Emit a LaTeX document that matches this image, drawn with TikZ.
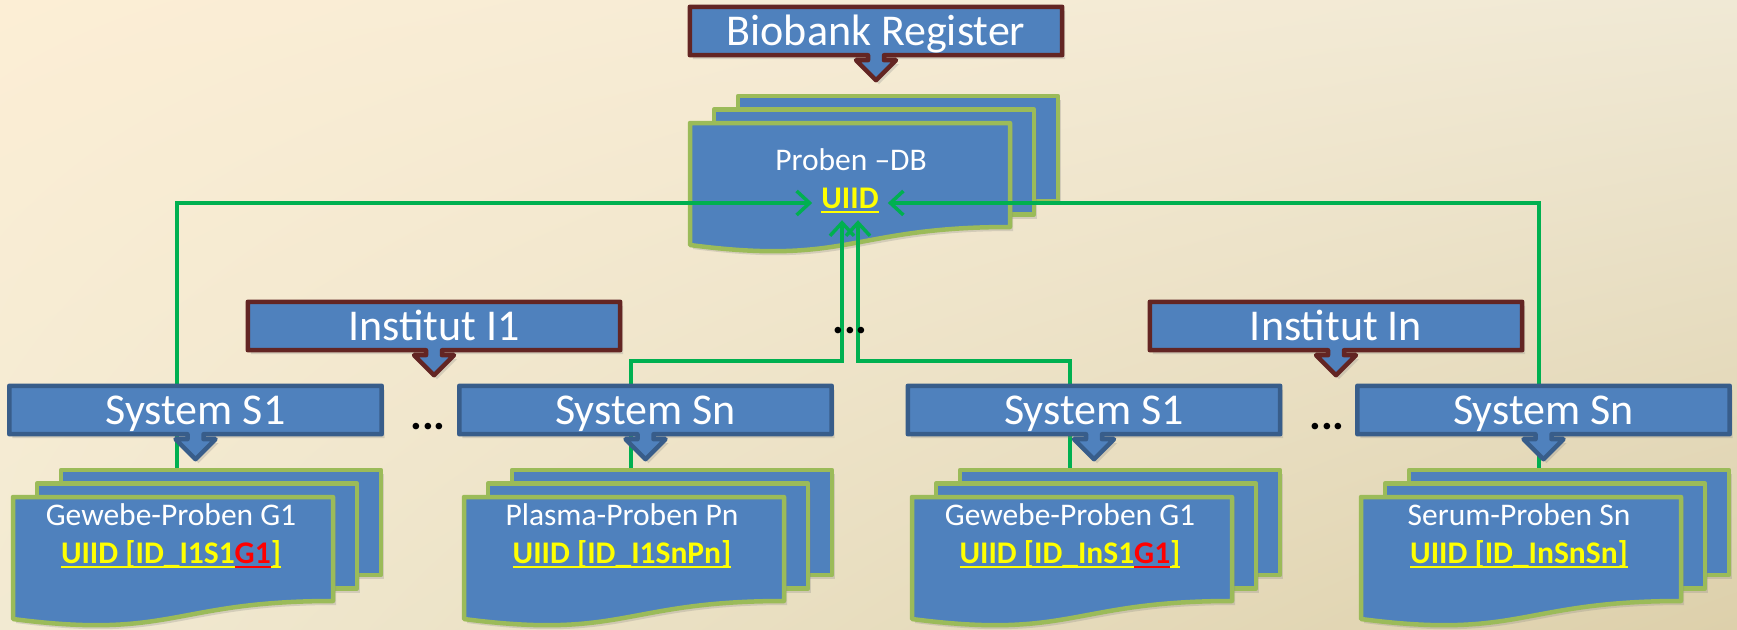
\documentclass[tikz,border=0pt]{standalone}
\usepackage{fontspec}
\setmainfont{Carlito}
\usetikzlibrary{positioning}
\usetikzlibrary{calc}
\usetikzlibrary{arrows.meta}
\usetikzlibrary{shadings}
\usetikzlibrary{shadows}

\definecolor{officeblue}{HTML}{4F81BD}
\definecolor{boxbrown}{HTML}{632523}
\definecolor{boxnavy}{HTML}{385D8A}
\definecolor{pagegreen}{HTML}{9BBB59}
\definecolor{linkgreen}{HTML}{00B050}
\definecolor{idyellow}{HTML}{FFFF00}
\definecolor{idred}{HTML}{FF0000}
\definecolor{bgtl}{HTML}{FCEED5}
\definecolor{bgtr}{HTML}{F0E9D5}
\definecolor{bgbl}{HTML}{F2EAD2}
\definecolor{bgbr}{HTML}{DDD0AB}

\pgfdeclarelayer{back}
\pgfdeclarelayer{links}
\pgfdeclarelayer{front}
\pgfsetlayers{back,links,main,front}

% underline at a fixed depth
\newcommand\uidline[1]{\setbox0\hbox{#1}\rlap{\rule[-5.3pt]{\wd0}{2.5pt}}\box0}

% box frame with its arrow below
\newcommand\arrowbox[2]{%
  \draw[#2] (#1.south west) -- (#1.north west) -- (#1.north east) -- (#1.south east)
    -- ($(#1.south)+(8,0)$) -- ++(0,5) -- ++(12,0) -- ($(#1.south)+(0,25)$)
    -- ($(#1.south)+(-20,5)$) -- ++(12,0) -- ($(#1.south)+(-8,0)$) -- cycle;}

% three pages, front page top left at #1
\newcommand\probenstack[1]{%
  \begin{scope}[shift={#1}]
    \draw[page] (48,-27) rectangle ++(320,105);
    \draw[page] (24,-13.5) rectangle ++(320,105);
    \draw[page] (0,0) -- (320,0) -- (320,104) .. controls (160,104) and (160,143) .. (0,122) -- cycle;
  \end{scope}}

\begin{document}
\begin{tikzpicture}[x=1pt, y=-1pt,
    every node/.style={inner sep=0pt},
    boxlabel/.style={text=white, font=\fontsize{44}{50}\selectfont, minimum width=372pt,
      minimum height=48pt, text height=34pt, text depth=6pt},
    brownframe/.style={draw=boxbrown, fill=officeblue, line width=4.5pt, line join=round,
      drop shadow={shadow xshift=3pt, shadow yshift=-4pt, opacity=0.25}},
    navyframe/.style={brownframe, draw=boxnavy},
    page/.style={draw=pagegreen, fill=officeblue, line width=4.5pt, line join=round,
      drop shadow={shadow xshift=3pt, shadow yshift=-4pt, opacity=0.25}},
    stacktext/.style={text=white, font=\fontsize{31.5}{36}\selectfont, anchor=base},
    idtext/.style={text=idyellow, font=\fontsize{31.5}{36}\selectfont\bfseries, anchor=base},
    dots/.style={font=\fontsize{44}{50}\selectfont\bfseries},
    link/.style={draw=linkgreen, line width=3.5pt, -{Straight Barb[length=13pt, width=24pt]}}]

    \useasboundingbox (0,0) rectangle (1737,629);

    \begin{pgfonlayer}{back}
        \shade[upper left=bgtl, upper right=bgtr, lower left=bgbl, lower right=bgbr] (0,0) rectangle (1737,629);
        \probenstack{(690,123)}
    \end{pgfonlayer}

    \begin{pgfonlayer}{front}
        \node[boxlabel] (register) at (876,31) {Biobank Register};
        \node[stacktext] (probendb) at (851,170) {Proben –DB};
        \node[idtext, text height=20pt, text depth=4pt, minimum height=40pt, inner xsep=9pt] (uiid) at (850,208) {\uidline{UIID}};

        \node[boxlabel] (inst1) at (434,326) {Institut I1};
        \node[boxlabel] (instn) at (1336,326) {Institut In};
        \node[dots] (dotsa) at (850,331) {...};

        \node[boxlabel] (sys1a) at (195.5,410) {System S1};
        \node[boxlabel] (sysna) at (645.5,410) {System Sn};
        \node[boxlabel] (sys1b) at (1094,410) {System S1};
        \node[boxlabel] (sysnb) at (1543.5,410) {System Sn};
        \node[dots] (dotsb) at (428,427) {...};
        \node[dots] (dotsc) at (1327,427) {...};

        \node[stacktext] (gw1) at (171,525) {Gewebe-Proben G1};
        \node[idtext, below=38pt of gw1.base, anchor=base] (gw1id) {\uidline{UIID [ID\_I1S1}\textcolor{idred}{\uidline{G1}}\uidline{]}};
        \node[stacktext] (pl1) at (622,525) {Plasma-Proben Pn};
        \node[idtext, below=38pt of pl1.base, anchor=base] (pl1id) {\uidline{UIID [ID\_I1SnPn]}};
        \node[stacktext] (gwn) at (1070,525) {Gewebe-Proben G1};
        \node[idtext, below=38pt of gwn.base, anchor=base] (gwnid) {\uidline{UIID [ID\_InS1}\textcolor{idred}{\uidline{G1}}\uidline{]}};
        \node[stacktext] (srn) at (1519,525) {Serum-Proben Sn};
        \node[idtext, below=38pt of srn.base, anchor=base] (srnid) {\uidline{UIID [ID\_InSnSn]}};
    \end{pgfonlayer}

    \arrowbox{register}{brownframe}
    \arrowbox{inst1}{brownframe}
    \arrowbox{instn}{brownframe}
    \arrowbox{sys1a}{navyframe}
    \arrowbox{sysna}{navyframe}
    \arrowbox{sys1b}{navyframe}
    \arrowbox{sysnb}{navyframe}

    \probenstack{(13,497)}
    \probenstack{(464,497)}
    \probenstack{(912,497)}
    \probenstack{(1361,497)}

    \coordinate (from1a) at (177,470);
    \coordinate (fromna) at (631,470);
    \coordinate (from1b) at (1070,470);
    \coordinate (fromnb) at (1539,470);

    \begin{pgfonlayer}{links}
        \draw[link] (from1a) |- ([yshift=-3pt]uiid.west);
        \draw[link] (fromnb) |- ([yshift=-3pt]uiid.east);
        \draw[link] (fromna) -- ++(0,-109) -| ([xshift=-8pt]uiid.south);
        \draw[link] (from1b) -- ++(0,-109) -| ([xshift=8pt]uiid.south);
    \end{pgfonlayer}

\end{tikzpicture}
\end{document}
